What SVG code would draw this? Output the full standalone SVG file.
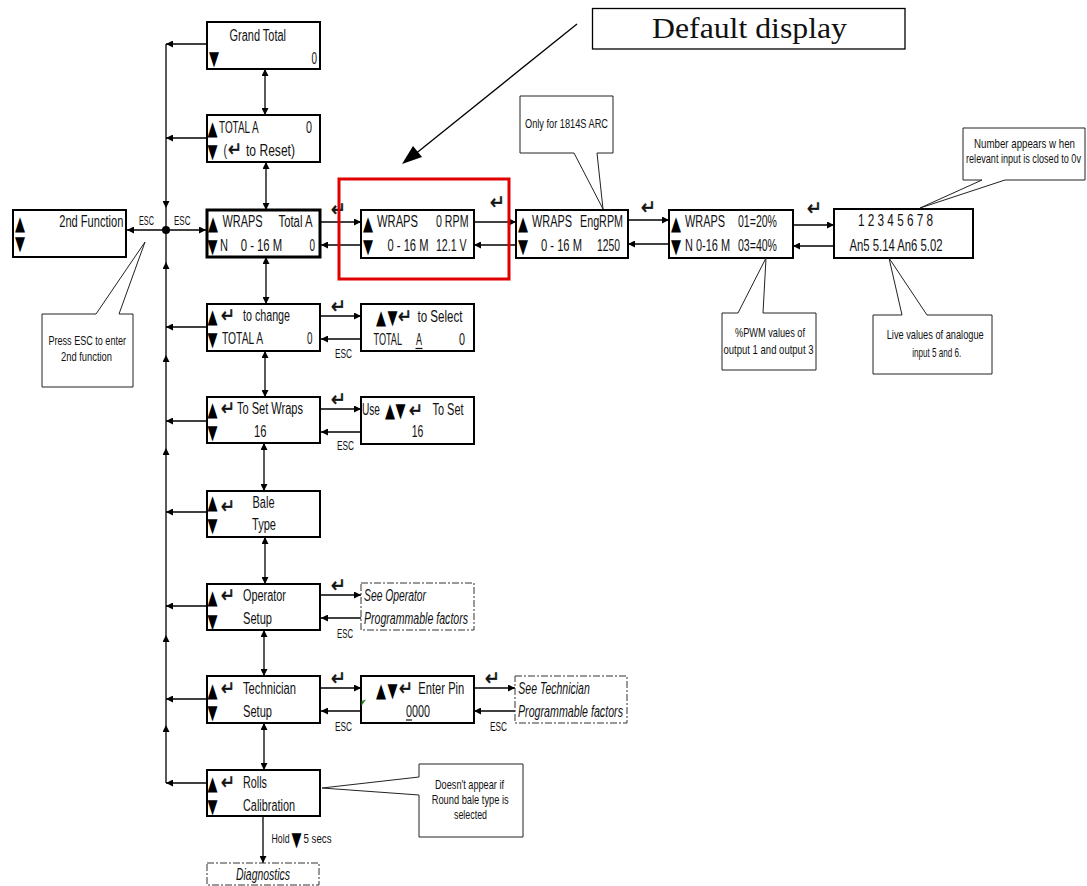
<svg xmlns="http://www.w3.org/2000/svg" width="1087" height="886" viewBox="0 0 1087 886">
<defs>
<style>
.bx{fill:#fff;stroke:#000;stroke-width:2}
.bxb{fill:#fff;stroke:#000;stroke-width:3}
.dash{fill:#fff;stroke:#333;stroke-width:1;stroke-dasharray:7 2 2 2}
.co{fill:#fff;stroke:#222;stroke-width:1}
.ln{fill:none;stroke:#000;stroke-width:1.3}
.a{marker-end:url(#ah)}
.aa{marker-start:url(#ah);marker-end:url(#ah)}
text{font-family:"Liberation Sans",Arial,sans-serif;fill:#111}
.t{font-size:16px}
.sm{font-size:13.5px}
.esc{font-size:12.5px}
.sy{font-family:"DejaVu Sans",sans-serif;font-size:13px;fill:#000}
.en{font-family:"DejaVu Sans",sans-serif;font-size:20px;stroke:#111;stroke-width:0.6}
.it{font-style:italic}
.e{text-anchor:end}
.serif{font-family:"Liberation Serif","Times New Roman",serif;font-size:30px}
.red{fill:none;stroke:#e00000;stroke-width:3}
</style>
<marker id="ah" viewBox="0 0 10 10" refX="10" refY="5" markerWidth="7" markerHeight="7" markerUnits="userSpaceOnUse" orient="auto-start-reverse"><path d="M0,0 L10,5 L0,10 z" fill="#000"/></marker>
</defs>
<rect width="1087" height="886" fill="#fff"/>

<g id="connectors" class="ln">
<path class="a" d="M166,44 V208"/><path d="M166,208 V230"/>
<path class="a" d="M166,783 V725"/><path class="a" d="M166,725 V635"/><path class="a" d="M166,635 V448"/><path class="a" d="M166,448 V355"/><path class="a" d="M166,355 V262"/><path d="M166,262 V230"/>
<path class="a" d="M207,44 H166"/><path class="a" d="M207,138 H166"/><path class="a" d="M207,327 H166"/><path class="a" d="M207,421 H166"/><path class="a" d="M207,512 H166"/><path class="a" d="M207,606 H166"/><path class="a" d="M207,699 H166"/><path class="a" d="M207,783 H166"/>
<path class="a" d="M166,230 H127"/><path class="a" d="M166,230 H206"/>
<circle cx="166" cy="230" r="4" fill="#000" stroke="none"/>
<path class="aa" d="M265,69 V115"/><path class="aa" d="M266,162 V210"/><path class="aa" d="M266,257 V304"/><path class="aa" d="M265,351 V397"/><path class="aa" d="M264,443 V491"/><path class="aa" d="M265,537 V584"/><path class="aa" d="M264,630 V676"/><path class="aa" d="M264,723 V770"/>
<path class="a" d="M263,816 V863"/>
<path class="a" d="M320,222 H361"/><path class="a" d="M361,245 H321"/>
<path class="a" d="M474,222 H516"/><path class="a" d="M516,245 H474"/>
<path class="a" d="M628,220 H669"/><path class="a" d="M669,244 H628"/>
<path class="a" d="M793,225 H834"/><path class="a" d="M834,246 H793"/>
<path class="a" d="M320,316 H361"/><path class="a" d="M361,339 H321"/>
<path class="a" d="M320,409 H361"/><path class="a" d="M361,432 H321"/>
<path class="a" d="M320,595 H361"/><path class="a" d="M361,618 H321"/>
<path class="a" d="M320,688 H361"/><path class="a" d="M361,711 H321"/>
<path class="a" d="M474,688 H515"/><path class="a" d="M515,711 H474"/>
<path d="M577,24 L414,155"/>
<polygon points="402,164 422,157 413,146" fill="#000" stroke="none"/>
</g>

<g id="connector-labels">
<text class="esc" x="139" y="225" textLength="15" lengthAdjust="spacingAndGlyphs">ESC</text>
<text class="esc" x="174" y="225" textLength="16.5" lengthAdjust="spacingAndGlyphs">ESC</text>
<text class="esc" x="335" y="358" textLength="17" lengthAdjust="spacingAndGlyphs">ESC</text>
<text class="esc" x="337" y="450" textLength="17" lengthAdjust="spacingAndGlyphs">ESC</text>
<text class="esc" x="337" y="638" textLength="16" lengthAdjust="spacingAndGlyphs">ESC</text>
<text class="esc" x="335" y="731" textLength="17" lengthAdjust="spacingAndGlyphs">ESC</text>
<text class="esc" x="490" y="731" textLength="17" lengthAdjust="spacingAndGlyphs">ESC</text>
<text class="en" x="331" y="216" textLength="15" lengthAdjust="spacingAndGlyphs">↵</text>
<text class="en" x="490" y="209" textLength="15" lengthAdjust="spacingAndGlyphs">↵</text>
<text class="en" x="641" y="214" textLength="15" lengthAdjust="spacingAndGlyphs">↵</text>
<text class="en" x="807" y="215" textLength="15" lengthAdjust="spacingAndGlyphs">↵</text>
<text class="en" x="331" y="313" textLength="15" lengthAdjust="spacingAndGlyphs">↵</text>
<text class="en" x="331" y="406" textLength="15" lengthAdjust="spacingAndGlyphs">↵</text>
<text class="en" x="331" y="592" textLength="15" lengthAdjust="spacingAndGlyphs">↵</text>
<text class="en" x="331" y="685" textLength="15" lengthAdjust="spacingAndGlyphs">↵</text>
<text class="en" x="485" y="685" textLength="15" lengthAdjust="spacingAndGlyphs">↵</text>
<text class="esc e" x="289.5" y="843" textLength="18" lengthAdjust="spacingAndGlyphs">Hold</text>
<text class="sy" transform="translate(291.5,846) scale(1,1.54)">▼</text>
<text class="esc" x="303.5" y="843" textLength="28" lengthAdjust="spacingAndGlyphs">5 secs</text>
</g>

<rect id="highlight" class="red" x="339" y="179" width="170" height="100"/>

<g id="n-default">
<rect x="592.5" y="8.5" width="312.5" height="40.5" fill="#fff" stroke="#000" stroke-width="1.3"/>
<text class="serif" x="652" y="38" textLength="195" lengthAdjust="spacingAndGlyphs">Default display</text>
</g>

<g id="n-2nd">
<rect class="bx" x="13" y="210" width="113" height="47"/>
<text class="sy" transform="translate(15,230) scale(1,1.54)">▲</text><text class="sy" transform="translate(15,250) scale(1,1.54)">▼</text>
<text class="t e" x="123.3" y="227" textLength="64" lengthAdjust="spacingAndGlyphs">2nd Function</text>
</g>

<g id="n-grand">
<rect class="bx" x="207" y="22" width="113" height="47"/>
<text class="t" x="229.5" y="41" textLength="56.5" lengthAdjust="spacingAndGlyphs">Grand Total</text>
<text class="sy" transform="translate(209,65) scale(1,1.54)">▼</text>
<text class="t" x="311.5" y="64" textLength="5.5" lengthAdjust="spacingAndGlyphs">0</text>
</g>

<g id="n-totala">
<rect class="bx" x="207" y="115" width="113" height="47"/>
<text class="sy" transform="translate(207.5,135) scale(1,1.54)">▲</text>
<text class="t" x="219" y="133" textLength="39.5" lengthAdjust="spacingAndGlyphs">TOTAL A</text>
<text class="t" x="306" y="133" textLength="6" lengthAdjust="spacingAndGlyphs">0</text>
<text class="sy" transform="translate(207.5,158) scale(1,1.54)">▼</text>
<text class="t e" x="227" y="156" textLength="3.5" lengthAdjust="spacingAndGlyphs">(</text>
<text class="en" x="228" y="156" textLength="14" lengthAdjust="spacingAndGlyphs">↵</text>
<text class="t" x="246" y="156" textLength="49" lengthAdjust="spacingAndGlyphs">to Reset)</text>
</g>

<g id="n-wraps">
<rect class="bxb" x="207" y="210" width="113" height="47"/>
<text class="sy" transform="translate(208,230) scale(1,1.54)">▲</text>
<text class="t" x="222.5" y="227" textLength="40" lengthAdjust="spacingAndGlyphs">WRAPS</text>
<text class="t e" x="312.5" y="227" textLength="34" lengthAdjust="spacingAndGlyphs">Total A</text>
<text class="sy" transform="translate(207.5,253) scale(1,1.54)">▼</text>
<text class="t" x="220" y="251" textLength="8" lengthAdjust="spacingAndGlyphs">N</text>
<text class="t" x="240.7" y="251" textLength="41.5" lengthAdjust="spacingAndGlyphs">0 - 16 M</text>
<text class="t" x="309.5" y="251" textLength="5.5" lengthAdjust="spacingAndGlyphs">0</text>
</g>

<g id="n-tochange">
<rect class="bx" x="207" y="304" width="113" height="47"/>
<text class="sy" transform="translate(207.5,323) scale(1,1.54)">▲</text>
<text class="en" x="221" y="322" textLength="14" lengthAdjust="spacingAndGlyphs">↵</text>
<text class="t" x="243" y="321" textLength="47" lengthAdjust="spacingAndGlyphs">to change</text>
<text class="sy" transform="translate(207.5,346) scale(1,1.54)">▼</text>
<text class="t" x="222" y="344" textLength="41" lengthAdjust="spacingAndGlyphs">TOTAL A</text>
<text class="t" x="307" y="344" textLength="5.5" lengthAdjust="spacingAndGlyphs">0</text>
</g>

<g id="n-setwraps">
<rect class="bx" x="207" y="397" width="113" height="46"/>
<text class="sy" transform="translate(207.5,416) scale(1,1.54)">▲</text>
<text class="en" x="221" y="415" textLength="14" lengthAdjust="spacingAndGlyphs">↵</text>
<text class="t" x="237" y="414" textLength="66" lengthAdjust="spacingAndGlyphs">To Set Wraps</text>
<text class="sy" transform="translate(207.5,439) scale(1,1.54)">▼</text>
<text class="t" x="254" y="437" textLength="12.5" lengthAdjust="spacingAndGlyphs">16</text>
</g>

<g id="n-baletype">
<rect class="bx" x="207" y="491" width="113" height="46"/>
<text class="sy" transform="translate(207.5,509) scale(1,1.54)">▲</text>
<text class="en" x="221" y="513" textLength="14" lengthAdjust="spacingAndGlyphs">↵</text>
<text class="t" x="252.5" y="508" textLength="22" lengthAdjust="spacingAndGlyphs">Bale</text>
<text class="sy" transform="translate(207.5,532) scale(1,1.54)">▼</text>
<text class="t" x="252" y="530" textLength="24" lengthAdjust="spacingAndGlyphs">Type</text>
</g>

<g id="n-operator">
<rect class="bx" x="207" y="584" width="113" height="46"/>
<text class="sy" transform="translate(207.5,604) scale(1,1.54)">▲</text>
<text class="en" x="221" y="602" textLength="14" lengthAdjust="spacingAndGlyphs">↵</text>
<text class="t" x="243" y="601" textLength="43" lengthAdjust="spacingAndGlyphs">Operator</text>
<text class="sy" transform="translate(207.5,628) scale(1,1.54)">▼</text>
<text class="t" x="243" y="624" textLength="29" lengthAdjust="spacingAndGlyphs">Setup</text>
</g>

<g id="n-technician">
<rect class="bx" x="207" y="676" width="113" height="47"/>
<text class="sy" transform="translate(207.5,697) scale(1,1.54)">▲</text>
<text class="en" x="221" y="695" textLength="14" lengthAdjust="spacingAndGlyphs">↵</text>
<text class="t" x="243" y="694" textLength="53" lengthAdjust="spacingAndGlyphs">Technician</text>
<text class="sy" transform="translate(207.5,719) scale(1,1.54)">▼</text>
<text class="t" x="243" y="717" textLength="29" lengthAdjust="spacingAndGlyphs">Setup</text>
</g>

<g id="n-rolls">
<rect class="bx" x="207" y="770" width="113" height="46"/>
<text class="sy" transform="translate(207.5,790) scale(1,1.54)">▲</text>
<text class="en" x="221" y="789" textLength="14" lengthAdjust="spacingAndGlyphs">↵</text>
<text class="t" x="243" y="788" textLength="24" lengthAdjust="spacingAndGlyphs">Rolls</text>
<text class="sy" transform="translate(207.5,813) scale(1,1.54)">▼</text>
<text class="t" x="243" y="811" textLength="52" lengthAdjust="spacingAndGlyphs">Calibration</text>
</g>

<g id="n-diag">
<rect class="dash" x="207" y="863" width="112" height="22"/>
<text class="t it" x="236" y="880" textLength="54" lengthAdjust="spacingAndGlyphs">Diagnostics</text>
</g>

<g id="n-rpm">
<rect class="bx" x="361" y="210" width="113" height="48"/>
<text class="sy" transform="translate(363,230) scale(1,1.54)">▲</text>
<text class="t" x="377" y="227" textLength="41" lengthAdjust="spacingAndGlyphs">WRAPS</text>
<text class="t e" x="468.5" y="227" textLength="32.5" lengthAdjust="spacingAndGlyphs">0 RPM</text>
<text class="sy" transform="translate(363,253) scale(1,1.54)">▼</text>
<text class="t" x="387.5" y="251" textLength="41" lengthAdjust="spacingAndGlyphs">0 - 16 M</text>
<text class="t e" x="466.5" y="251" textLength="30.5" lengthAdjust="spacingAndGlyphs">12.1 V</text>
</g>

<g id="n-engrpm">
<rect class="bx" x="516" y="210" width="112" height="48"/>
<text class="sy" transform="translate(518,230) scale(1,1.54)">▲</text>
<text class="t" x="532" y="227" textLength="40" lengthAdjust="spacingAndGlyphs">WRAPS</text>
<text class="t e" x="623" y="227" textLength="43" lengthAdjust="spacingAndGlyphs">EngRPM</text>
<text class="sy" transform="translate(518,253) scale(1,1.54)">▼</text>
<text class="t" x="541" y="251" textLength="41" lengthAdjust="spacingAndGlyphs">0 - 16 M</text>
<text class="t e" x="620" y="251" textLength="23" lengthAdjust="spacingAndGlyphs">1250</text>
</g>

<g id="n-pwm">
<rect class="bx" x="669" y="210" width="124" height="48"/>
<text class="sy" transform="translate(671,230) scale(1,1.54)">▲</text>
<text class="t" x="685" y="227" textLength="40" lengthAdjust="spacingAndGlyphs">WRAPS</text>
<text class="t e" x="777" y="227" textLength="39" lengthAdjust="spacingAndGlyphs">01=20%</text>
<text class="sy" transform="translate(671,253) scale(1,1.54)">▼</text>
<text class="t" x="685" y="251" textLength="45" lengthAdjust="spacingAndGlyphs">N 0-16 M</text>
<text class="t e" x="777" y="251" textLength="39" lengthAdjust="spacingAndGlyphs">03=40%</text>
</g>

<g id="n-inputs">
<rect class="bx" x="834" y="209" width="139" height="49"/>
<text class="t" x="858" y="226" textLength="75" lengthAdjust="spacingAndGlyphs">1 2 3 4 5 6 7 8</text>
<text class="t" x="849.5" y="251" textLength="93" lengthAdjust="spacingAndGlyphs">An5 5.14 An6 5.02</text>
</g>

<g id="n-select">
<rect class="bx" x="361" y="304" width="113" height="47"/>
<text class="sy" transform="translate(376,324) scale(1,1.54)">▲</text><text class="sy" transform="translate(387.5,324) scale(1,1.54)">▼</text>
<text class="en" x="398" y="323" textLength="14" lengthAdjust="spacingAndGlyphs">↵</text>
<text class="t" x="417.5" y="322" textLength="45" lengthAdjust="spacingAndGlyphs">to Select</text>
<text class="t e" x="402" y="345" textLength="28.5" lengthAdjust="spacingAndGlyphs">TOTAL</text>
<text class="t" x="416" y="345" textLength="6" lengthAdjust="spacingAndGlyphs">A</text>
<line x1="415.5" y1="348.5" x2="422.5" y2="348.5" stroke="#111" stroke-width="1.2"/>
<text class="t" x="459" y="345" textLength="6" lengthAdjust="spacingAndGlyphs">0</text>
</g>

<g id="n-use">
<rect class="bx" x="361" y="397" width="113" height="47"/>
<text class="t e" x="380" y="415" textLength="18" lengthAdjust="spacingAndGlyphs">Use</text>
<text class="sy" transform="translate(385,417) scale(1,1.54)">▲</text><text class="sy" transform="translate(395.5,417) scale(1,1.54)">▼</text>
<text class="en" x="409" y="417" textLength="14" lengthAdjust="spacingAndGlyphs">↵</text>
<text class="t" x="432.5" y="415" textLength="31" lengthAdjust="spacingAndGlyphs">To Set</text>
<text class="t" x="411.7" y="437" textLength="11.6" lengthAdjust="spacingAndGlyphs">16</text>
</g>

<g id="n-opfactors">
<rect class="dash" x="361" y="583" width="113" height="47"/>
<text class="t it" x="364" y="601" textLength="62" lengthAdjust="spacingAndGlyphs">See Operator</text>
<text class="t it" x="364" y="624" textLength="104" lengthAdjust="spacingAndGlyphs">Programmable factors</text>
</g>

<g id="n-pin">
<rect class="bx" x="361" y="676" width="113" height="47"/>
<polygon points="361.5,701 366,699.5 361.5,706" fill="#2a8a2a"/>
<text class="sy" transform="translate(376,697) scale(1,1.54)">▲</text><text class="sy" transform="translate(387.5,697) scale(1,1.54)">▼</text>
<text class="en" x="399" y="695" textLength="14" lengthAdjust="spacingAndGlyphs">↵</text>
<text class="t" x="418.3" y="694" textLength="46" lengthAdjust="spacingAndGlyphs">Enter Pin</text>
<text class="t" x="406" y="717" textLength="24" lengthAdjust="spacingAndGlyphs">0000</text>
<line x1="406" y1="720" x2="412" y2="720" stroke="#111" stroke-width="1.2"/>
</g>

<g id="n-techfactors">
<rect class="dash" x="515" y="676" width="112" height="47"/>
<text class="t it" x="518.3" y="694" textLength="71.5" lengthAdjust="spacingAndGlyphs">See Technician</text>
<text class="t it" x="518" y="717" textLength="105" lengthAdjust="spacingAndGlyphs">Programmable factors</text>
</g>

<g id="c-2nd">
<polygon class="co" points="42,314 96,314 145,242 119,314 133,314 133,387 42,387"/>
<text class="sm" x="48.5" y="345" textLength="77.5" lengthAdjust="spacingAndGlyphs">Press ESC to enter</text>
<text class="sm" x="61" y="361" textLength="51" lengthAdjust="spacingAndGlyphs">2nd function</text>
</g>

<g id="c-arc">
<polygon class="co" points="520,96 613,96 613,153 597,153 603,209 574,153 520,153"/>
<text class="sm" x="525" y="128" textLength="83" lengthAdjust="spacingAndGlyphs">Only for 1814S ARC</text>
</g>

<g id="c-number">
<polygon class="co" points="963,128 1085,128 1085,180 1005,180 920,208 982,180 963,180"/>
<text class="sm e" x="1075" y="148" textLength="101" lengthAdjust="spacingAndGlyphs">Number appears w hen</text>
<text class="sm e" x="1081" y="163" textLength="115" lengthAdjust="spacingAndGlyphs">relevant input is closed to 0v</text>
</g>

<g id="c-pwm">
<polygon class="co" points="722,313 738,313 766,258 763,313 816,313 816,370 722,370"/>
<text class="sm" x="735" y="337" textLength="70" lengthAdjust="spacingAndGlyphs">%PWM values of</text>
<text class="sm" x="723.5" y="354" textLength="90" lengthAdjust="spacingAndGlyphs">output 1 and output 3</text>
</g>

<g id="c-live">
<polygon class="co" points="873,315 902,315 889,258 927,315 992,315 992,374 873,374"/>
<text class="sm" x="886.7" y="339" textLength="97" lengthAdjust="spacingAndGlyphs">Live values of analogue</text>
<text class="sm" x="912.3" y="357" textLength="49" lengthAdjust="spacingAndGlyphs">input 5 and 6.</text>
</g>

<g id="c-doesnt">
<polygon class="co" points="419,764 523,764 523,837 419,837 419,795 322,788 419,777"/>
<text class="sm" x="435" y="789" textLength="69" lengthAdjust="spacingAndGlyphs">Doesn't appear if</text>
<text class="sm" x="431.7" y="804" textLength="77" lengthAdjust="spacingAndGlyphs">Round bale type is</text>
<text class="sm" x="454" y="819" textLength="33" lengthAdjust="spacingAndGlyphs">selected</text>
</g>
</svg>
